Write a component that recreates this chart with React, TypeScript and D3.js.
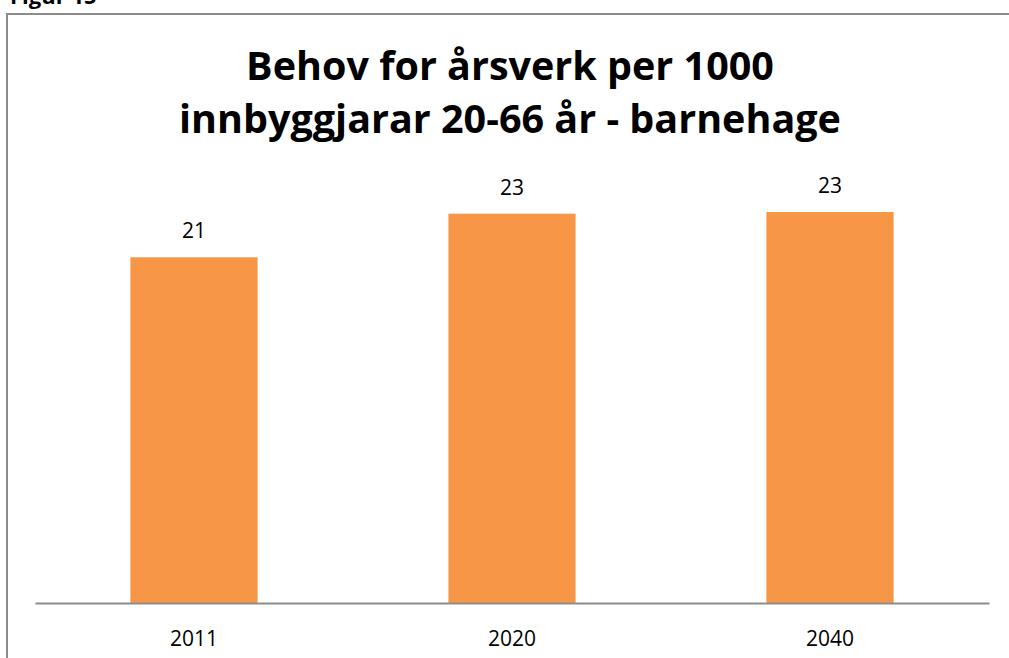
import React, { useEffect, useRef } from "react";
import * as d3 from "d3";

const categories = ["2011", "2020", "2040"];
const values = [20.6, 23.2, 23.3];
const titleLines = ["Behov for årsverk per 1000", "innbyggjarar 20-66 år - barnehage"];

const width = 1009;
const height = 658;
const font = "'Open Sans', Lato, sans-serif";

const DrawChart = (element: any) => {
  d3.select(element).select("svg").remove();

  const svg = d3
    .select(element)
    .append("svg")
    .attr("width", width)
    .attr("height", height)
    .style("position", "absolute")
    .style("left", "0px")
    .style("top", "0px")
    .style("background", "#fff");

  // figure caption, cut off at the top like in the original
  svg
    .append("text")
    .attr("x", 10)
    .attr("y", 4)
    .style("font-family", font)
    .style("font-weight", "bold")
    .style("font-size", "22px")
    .style("fill", "#000")
    .text("Figur 15");

  // chart border (runs off the page on right/bottom)
  svg
    .append("rect")
    .attr("x", 7)
    .attr("y", 14)
    .attr("width", width + 20)
    .attr("height", height + 20)
    .style("fill", "none")
    .style("stroke", "#8c8c8c")
    .style("stroke-width", 2);

  svg
    .selectAll(".title")
    .data(titleLines)
    .enter()
    .append("text")
    .attr("class", "title")
    .attr("x", 510)
    .attr("y", (d, i) => 80 + i * 53)
    .attr("text-anchor", "middle")
    .style("font-family", font)
    .style("font-weight", "bold")
    .style("font-size", "39.5px")
    .style("fill", "#000")
    .text((d) => d);

  const x = d3
    .scaleBand()
    .domain(categories)
    .range([35, 989])
    .paddingInner(0.6)
    .paddingOuter(0.3);

  const y = d3.scaleLinear().domain([0, 23.3]).range([603, 212]);

  svg
    .selectAll(".bar")
    .data(values)
    .enter()
    .append("rect")
    .attr("class", "bar")
    .attr("x", (d, i) => x(categories[i]) as number)
    .attr("y", (d) => y(d))
    .attr("width", x.bandwidth())
    .attr("height", (d) => y(0) - y(d))
    .style("fill", "#F79646");

  svg
    .selectAll(".val")
    .data(values)
    .enter()
    .append("text")
    .attr("class", "val")
    .attr("x", (d, i) => (x(categories[i]) as number) + x.bandwidth() / 2)
    .attr("y", (d) => y(d) - 19)
    .attr("text-anchor", "middle")
    .style("font-family", font)
    .style("font-size", "21px")
    .style("fill", "#000")
    .text((d) => Math.round(d));

  // x axis
  const axis = svg
    .append("g")
    .attr("transform", `translate(0, ${y(0)})`)
    .call(d3.axisBottom(x).tickSize(0).tickPadding(28));
  axis.select(".domain").style("stroke", "#8c8c8c").style("stroke-width", 2);
  axis
    .selectAll("text")
    .style("font-family", font)
    .style("font-size", "21px")
    .style("fill", "#000");
};

export default function App() {
  const ref = useRef<HTMLDivElement>(null);
  useEffect(() => {
    DrawChart(ref.current);
  }, []);
  return <div ref={ref} />;
}
